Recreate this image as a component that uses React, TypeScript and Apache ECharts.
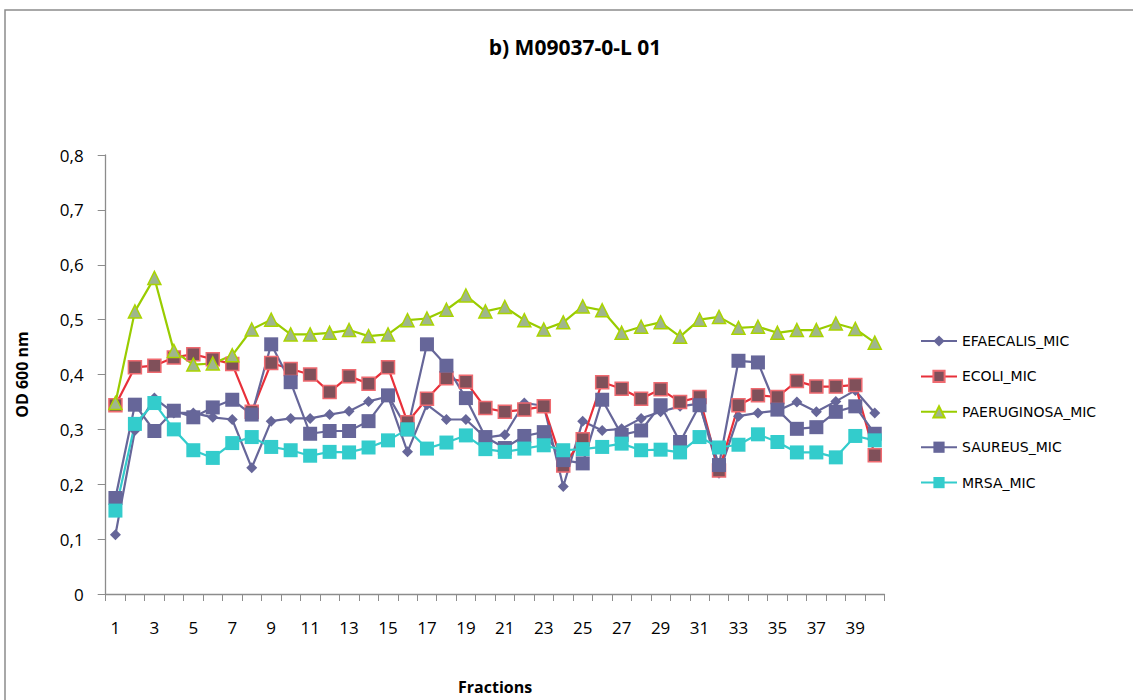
import React, { useEffect, useRef } from "react";
import * as echarts from "echarts";

const categories: string[] = Array.from({ length: 40 }, (_, i) => String(i + 1));

const efaecalis = [0.108, 0.298, 0.357, 0.33, 0.33, 0.322, 0.318, 0.23, 0.315, 0.32, 0.32, 0.327, 0.333, 0.351, 0.36, 0.259, 0.345, 0.318, 0.318, 0.285, 0.29, 0.348, 0.343, 0.196, 0.315, 0.298, 0.301, 0.32, 0.332, 0.342, 0.347, 0.22, 0.324, 0.33, 0.334, 0.35, 0.332, 0.351, 0.371, 0.33];
const ecoli = [0.344, 0.413, 0.416, 0.431, 0.437, 0.428, 0.419, 0.332, 0.421, 0.41, 0.4, 0.368, 0.397, 0.383, 0.413, 0.313, 0.356, 0.393, 0.387, 0.339, 0.332, 0.336, 0.342, 0.234, 0.282, 0.386, 0.374, 0.356, 0.373, 0.35, 0.359, 0.225, 0.344, 0.362, 0.359, 0.388, 0.378, 0.378, 0.381, 0.253];
const paeruginosa = [0.348, 0.515, 0.576, 0.443, 0.418, 0.42, 0.435, 0.482, 0.5, 0.473, 0.473, 0.476, 0.481, 0.47, 0.473, 0.499, 0.502, 0.518, 0.544, 0.515, 0.523, 0.499, 0.482, 0.495, 0.524, 0.517, 0.476, 0.487, 0.495, 0.469, 0.5, 0.505, 0.485, 0.487, 0.476, 0.481, 0.481, 0.493, 0.483, 0.458];
const saureus = [0.175, 0.345, 0.297, 0.334, 0.322, 0.34, 0.354, 0.327, 0.455, 0.386, 0.292, 0.297, 0.297, 0.315, 0.362, 0.3, 0.455, 0.416, 0.357, 0.286, 0.266, 0.288, 0.295, 0.244, 0.238, 0.354, 0.29, 0.298, 0.344, 0.277, 0.344, 0.235, 0.425, 0.422, 0.336, 0.301, 0.304, 0.332, 0.342, 0.292];
const mrsa = [0.152, 0.31, 0.348, 0.3, 0.262, 0.248, 0.275, 0.286, 0.268, 0.262, 0.252, 0.259, 0.258, 0.267, 0.28, 0.3, 0.265, 0.276, 0.289, 0.264, 0.259, 0.265, 0.271, 0.262, 0.264, 0.268, 0.274, 0.262, 0.263, 0.258, 0.286, 0.267, 0.272, 0.291, 0.277, 0.258, 0.258, 0.249, 0.288, 0.28];

const seriesNames = ["EFAECALIS_MIC", "ECOLI_MIC", "PAERUGINOSA_MIC", "SAUREUS_MIC", "MRSA_MIC"];
const titleText = "b) M09037-0-L 01";
const yAxisTitle = "OD 600 nm";
const xAxisTitle = "Fractions";

const FONT = "'Liberation Sans Narrow', 'Open Sans', 'Liberation Sans', sans-serif";

export default function App() {
  const ref = useRef<HTMLDivElement>(null);
  useEffect(() => {
    if (!ref.current) return;
    const chart = echarts.init(ref.current, undefined, { renderer: "svg" });
    const mk = (name: string, data: number[], lineColor: string, symbol: string, size: number, fill: string, border: string, bw: number) => ({
      name,
      type: "line",
      data,
      symbol,
      symbolSize: size,
      showAllSymbol: true,
      lineStyle: { color: lineColor, width: 2.2 },
      itemStyle: { color: fill, borderColor: border, borderWidth: bw },
      emphasis: { disabled: true },
    });
    chart.setOption({
      animation: false,
      backgroundColor: "#ffffff",
      title: {
        text: titleText,
        left: 570,
        top: 31,
        textAlign: "center",
        textStyle: { fontFamily: FONT, fontSize: 21, fontWeight: "bold", color: "#000" },
      },
      graphic: [
        {
          type: "rect",
          shape: { x: 5, y: 10, width: 1140, height: 700 },
          style: { fill: "none", stroke: "#8c8c8c", lineWidth: 1.5 },
          silent: true,
        },
      ],
      legend: {
        orient: "vertical",
        left: 915,
        top: 329,
        itemWidth: 36,
        itemHeight: 14,
        itemGap: 21.4,
        textStyle: { fontFamily: "'DejaVu Sans', sans-serif", fontSize: 14, color: "#000" },
        data: seriesNames,
      },
      grid: { left: 105.7, right: 248.5, top: 155, bottom: 103.3, containLabel: false },
      xAxis: {
        type: "category",
        data: categories,
        boundaryGap: true,
        name: xAxisTitle,
        nameLocation: "middle",
        nameGap: 85,
        nameTextStyle: { fontFamily: FONT, fontSize: 16, fontWeight: "bold", color: "#000" },
        axisLine: { lineStyle: { color: "#8c8c8c", width: 1.3 } },
        axisTick: { show: true, length: 7, interval: 0, alignWithLabel: false, lineStyle: { color: "#8c8c8c" } },
        axisLabel: { interval: 1, margin: 25, fontFamily: FONT, fontSize: 17, color: "#000" },
        splitLine: { show: false },
      },
      yAxis: {
        type: "value",
        min: 0,
        max: 0.8,
        interval: 0.1,
        name: yAxisTitle,
        nameLocation: "middle",
        nameGap: 76,
        nameRotate: 90,
        nameTextStyle: { fontFamily: FONT, fontSize: 16, fontWeight: "bold", color: "#000" },
        axisLine: { show: true, lineStyle: { color: "#8c8c8c", width: 1.3 } },
        axisTick: { show: true, length: 8, lineStyle: { color: "#8c8c8c" } },
        axisLabel: {
          margin: 22,
          fontFamily: FONT,
          fontSize: 17,
          color: "#000",
          formatter: (v: number) => (v === 0 ? "0" : v.toFixed(1).replace(".", ",")),
        },
        splitLine: { show: false },
      },
      series: [
        mk(seriesNames[0], efaecalis, "#666699", "diamond", 11, "#666699", "#666699", 0),
        mk(seriesNames[1], ecoli, "#e8303a", "rect", 13, "#80505a", "#ef6a70", 1.5),
        mk(seriesNames[2], paeruginosa, "#99cc00", "triangle", 13, "#9fb68c", "#aad400", 1.5),
        mk(seriesNames[3], saureus, "#666699", "rect", 14, "#666699", "#666699", 0),
        mk(seriesNames[4], mrsa, "#33cccc", "rect", 14, "#33cccc", "#33cccc", 0),
      ],
    });
    return () => chart.dispose();
  }, []);
  return <div ref={ref} style={{ position: "fixed", left: 0, top: 0, width: 1133, height: 700 }} />;
}
